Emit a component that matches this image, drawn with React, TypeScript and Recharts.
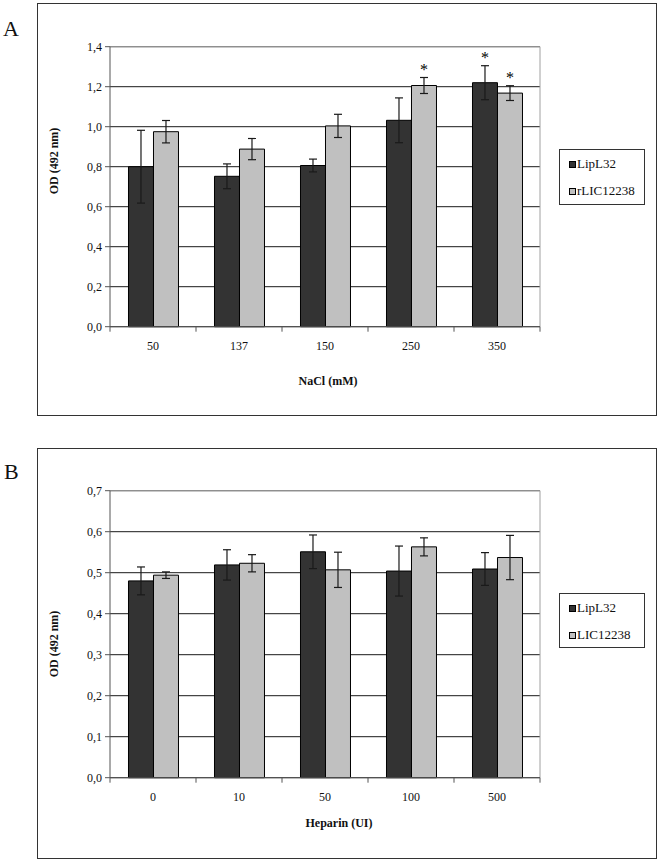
import React from 'react';
import { BarChart, Bar, XAxis, YAxis, CartesianGrid, ErrorBar, LabelList, ReferenceLine } from 'recharts';

// Panel A: NaCl
const naclCategories = ['50', '137', '150', '250', '350'];
const lipL32A = [0.8, 0.752, 0.806, 1.032, 1.22];
const lipL32AErr = [0.182, 0.062, 0.032, 0.112, 0.085];
const lipL32ASig = [false, false, false, false, true];
const rlicA = [0.975, 0.888, 1.004, 1.206, 1.168];
const rlicAErr = [0.056, 0.053, 0.058, 0.04, 0.037];
const rlicASig = [false, false, false, true, true];
const yTicksA = [0, 0.2, 0.4, 0.6, 0.8, 1.0, 1.2, 1.4];

// Panel B: Heparin
const heparinCategories = ['0', '10', '50', '100', '500'];
const lipL32B = [0.48, 0.519, 0.551, 0.504, 0.509];
const lipL32BErr = [0.034, 0.037, 0.041, 0.061, 0.04];
const licB = [0.494, 0.523, 0.507, 0.563, 0.537];
const licBErr = [0.008, 0.021, 0.043, 0.022, 0.054];
const yTicksB = [0, 0.1, 0.2, 0.3, 0.4, 0.5, 0.6, 0.7];

const FONT = '"Liberation Serif", "Times New Roman", serif';
const DARK = '#333333';
const LIGHT = '#c0c0c0';

type PanelProps = {
  top: number;
  height: number;
  marginTop: number;
  marginBottom: number;
  categories: string[];
  s1: number[];
  s1Err: number[];
  s1Sig: boolean[];
  s2: number[];
  s2Err: number[];
  s2Sig: boolean[];
  ticks: number[];
  name1: string;
  name2: string;
};

const makeXTick = (count: number) => (props: any) => {
  const { x, y, payload, index } = props;
  const off = payload && typeof payload.offset === 'number' && payload.offset > 0 ? payload.offset : 43;
  return (
    <g>
      <line x1={x - off} x2={x - off} y1={y} y2={y + 5} stroke="#555" strokeWidth={1} />
      {index === count - 1 ? <line x1={x + off} x2={x + off} y1={y} y2={y + 5} stroke="#555" strokeWidth={1} /> : null}
      <text x={x} y={y + 23} textAnchor="middle" fontFamily={FONT} fontSize={12} fill="#111">
        {payload.value}
      </text>
    </g>
  );
};

const makeStar = (sig: boolean[], errs: number[], vals: number[]) => (p: any) => {
  const i = p.index;
  if (i == null || !sig[i]) return null;
  const pxPer = p.height / vals[i];
  const errTop = p.y - errs[i] * pxPer;
  return (
    <text x={p.x + p.width / 2} y={errTop - 3} textAnchor="middle" fontFamily={FONT} fontSize={16} fill="#000" stroke="none">
      *
    </text>
  );
};

function Panel(props: PanelProps) {
  const data = props.categories.map((c, i) => ({
    cat: c,
    a: props.s1[i],
    aErr: props.s1Err[i],
    b: props.s2[i],
    bErr: props.s2Err[i],
  }));
  const max = props.ticks[props.ticks.length - 1];
  return (
    <div style={{ position: 'absolute', left: 0, top: props.top, width: 661, height: props.height }}>
      <BarChart
        width={661}
        height={props.height}
        data={data}
        margin={{ top: props.marginTop, right: 121, bottom: props.marginBottom, left: 60 }}
        barCategoryGap="21.5%"
        barGap={0}
      >
        <CartesianGrid vertical={false} stroke="#1a1a1a" strokeWidth={1} />
        <CartesianGrid
          horizontal={false}
          vertical={true}
          stroke="#a0a0a0"
          verticalCoordinatesGenerator={(p: any) => [p.offset.left + p.offset.width]}
        />
        <ReferenceLine y={max} stroke="#a0a0a0" strokeWidth={1} />
        <XAxis
          dataKey="cat"
          height={30}
          tickSize={0}
          tickMargin={0}
          tickLine={false}
          axisLine={{ stroke: '#555', strokeWidth: 1 }}
          interval={0}
          tick={makeXTick(props.categories.length)}
        />
        <YAxis
          width={50}
          domain={[0, max]}
          ticks={props.ticks}
          interval={0}
          tickSize={5}
          tickMargin={3}
          axisLine={{ stroke: '#555', strokeWidth: 1 }}
          tickLine={{ stroke: '#555', strokeWidth: 1 }}
          tick={{ fontFamily: FONT, fontSize: 12, fill: '#111' }}
          tickFormatter={(v: number) => v.toFixed(1).replace('.', ',')}
        />
        <Bar dataKey="a" name={props.name1} fill={DARK} stroke="#000" strokeWidth={1} isAnimationActive={false}>
          <ErrorBar dataKey="aErr" width={4} stroke="#1a1a1a" strokeWidth={1.2} direction="y" />
          <LabelList dataKey="a" content={makeStar(props.s1Sig, props.s1Err, props.s1)} />
        </Bar>
        <Bar dataKey="b" name={props.name2} fill={LIGHT} stroke="#000" strokeWidth={1} isAnimationActive={false}>
          <ErrorBar dataKey="bErr" width={4} stroke="#1a1a1a" strokeWidth={1.2} direction="y" />
          <LabelList dataKey="b" content={makeStar(props.s2Sig, props.s2Err, props.s2)} />
        </Bar>
      </BarChart>
    </div>
  );
}

function LegendBox({ left, top, height, names }: { left: number; top: number; height: number; names: string[] }) {
  const colors = [DARK, LIGHT];
  return (
    <div
      style={{
        position: 'absolute',
        left,
        top,
        width: 86,
        height,
        boxSizing: 'border-box',
        border: '1px solid #333',
        background: '#fff',
      }}
    >
      {names.map((n, i) => (
        <div
          key={n}
          style={{
            position: 'absolute',
            left: 9,
            top: 6 + i * 27,
            height: 16,
            display: 'flex',
            alignItems: 'center',
            fontFamily: FONT,
            fontSize: 13,
            color: '#111',
            whiteSpace: 'nowrap',
          }}
        >
          <span
            style={{
              display: 'inline-block',
              width: 7,
              height: 7,
              boxSizing: 'border-box',
              border: '1px solid #000',
              background: colors[i],
              marginRight: 1,
            }}
          />
          {n}
        </div>
      ))}
    </div>
  );
}

const textStyle: React.CSSProperties = {
  position: 'absolute',
  fontFamily: FONT,
  color: '#111',
  whiteSpace: 'nowrap',
  lineHeight: 1,
};

export default function App() {
  return (
    <div style={{ position: 'absolute', left: 0, top: 0, width: 661, height: 862, background: '#fff', overflow: 'hidden' }}>
      {/* Panel borders */}
      <div style={{ position: 'absolute', left: 37, top: 3, width: 620, height: 413, boxSizing: 'border-box', border: '1px solid #333' }} />
      <div style={{ position: 'absolute', left: 37, top: 448, width: 620, height: 411, boxSizing: 'border-box', border: '1px solid #333' }} />

      {/* Panel letters */}
      <div style={{ ...textStyle, left: 3, top: 18, fontSize: 22 }}>A</div>
      <div style={{ ...textStyle, left: 4, top: 461, fontSize: 22 }}>B</div>

      <Panel
        top={0}
        height={420}
        marginTop={46.7}
        marginBottom={63.3}
        categories={naclCategories}
        s1={lipL32A}
        s1Err={lipL32AErr}
        s1Sig={lipL32ASig}
        s2={rlicA}
        s2Err={rlicAErr}
        s2Sig={rlicASig}
        ticks={yTicksA}
        name1="LipL32"
        name2="rLIC12238"
      />
      <Panel
        top={440}
        height={422}
        marginTop={50.7}
        marginBottom={54.3}
        categories={heparinCategories}
        s1={lipL32B}
        s1Err={lipL32BErr}
        s1Sig={[false, false, false, false, false]}
        s2={licB}
        s2Err={licBErr}
        s2Sig={[false, false, false, false, false]}
        ticks={yTicksB}
        name1="LipL32"
        name2="LIC12238"
      />

      {/* Axis titles */}
      <div style={{ ...textStyle, left: 54, top: 161, fontSize: 12, fontWeight: 'bold', transform: 'translate(-50%, -50%) rotate(-90deg)' }}>
        OD (492 nm)
      </div>
      <div style={{ ...textStyle, left: 54, top: 644, fontSize: 12, fontWeight: 'bold', transform: 'translate(-50%, -50%) rotate(-90deg)' }}>
        OD (492 nm)
      </div>
      <div style={{ ...textStyle, left: 328, top: 381, fontSize: 12, fontWeight: 'bold', transform: 'translate(-50%, -50%)' }}>
        NaCl (mM)
      </div>
      <div style={{ ...textStyle, left: 339, top: 823, fontSize: 12, fontWeight: 'bold', transform: 'translate(-50%, -50%)' }}>
        Heparin (UI)
      </div>

      <LegendBox left={559} top={149} height={56} names={['LipL32', 'rLIC12238']} />
      <LegendBox left={559} top={593} height={55} names={['LipL32', 'LIC12238']} />
    </div>
  );
}
